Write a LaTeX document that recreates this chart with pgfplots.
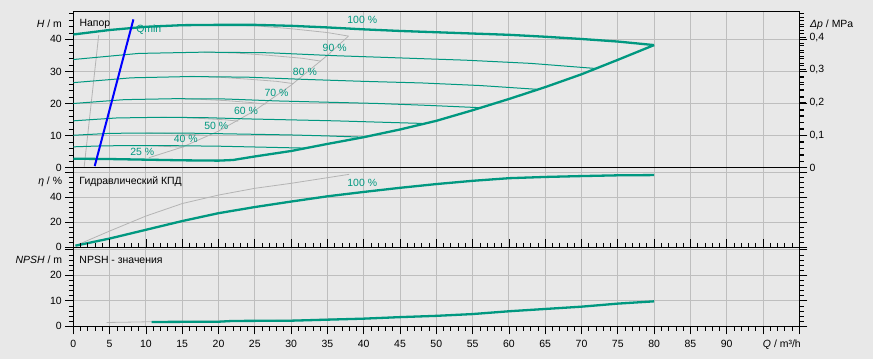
\documentclass[border=0pt]{standalone}
\usepackage{fontspec}
\setmainfont{Liberation Sans}
\usepackage{pgfplots}
\pgfplotsset{compat=1.18}
\definecolor{bg}{HTML}{E8E8E8}
\definecolor{gridc}{HTML}{BEBEBE}
\definecolor{tealc}{RGB}{0,152,128}
\definecolor{greyc}{HTML}{B4B4B4}
\newcommand\fsz{\fontsize{10.5}{12.6}\selectfont}
\pgfplotsset{
  base/.style={
    scale only axis, width=726bp, xmin=0, xmax=100, ymin=0,
    axis line style={black, line width=0.8bp},
    tick align=outside,
    major tick length=8bp, minor tick length=4.5bp,
    every tick/.style={black, line width=0.7bp},
    xtick={0,5,...,100},
    grid=major, major grid style={gridc, line width=0.9bp},
    /pgf/number format/assume math mode=true,
    tick label style={font=\fsz, black},
    clip mode=individual,
  },
  noxt/.style={xticklabels={}, xtick style={draw=none}},
  thickc/.style={tealc, line width=2.3bp},
  thinc/.style={tealc, line width=1.0bp},
  greyl/.style={greyc, line width=0.8bp},
}
\begin{document}
\begin{tikzpicture}
\fill[bg] (0,0) rectangle (873bp,359bp);
\useasboundingbox (0,0) rectangle (873bp,359bp);

% ---------------- top panel: head ----------------
\begin{axis}[base, noxt, at={(73.3bp,191.3bp)}, anchor=south west,
  height=156bp, ymax=48.6,
  ytick={0,10,20,30,40}, minor ytick={0,2,...,48}]
% grey curves
\addplot[greyl] coordinates {(1.5,0.3) (3.5,41.3)};
\addplot[greyl] coordinates {(10.4,3.1) (15,6.4) (20,11.4) (25,17.8) (30,25.7) (35,35.0) (37.9,41.0)};
\addplot[greyl] coordinates {(20,44.5) (25,44.2) (30,43.3) (35,42.1) (37.9,41.0)};
\addplot[greyl] coordinates {(18,36.0) (22.5,35.7) (27,35.0) (31.5,34.1) (34.1,33.2)};
\addplot[greyl] coordinates {(16,28.5) (20,28.2) (24,27.6) (28,26.9) (30.3,26.2)};
\addplot[greyl] coordinates {(14,21.5) (17.5,21.3) (21,20.9) (24.5,20.3) (26.5,19.8)};
\addplot[greyl] coordinates {(12,15.7) (15,15.6) (18,15.3) (21,14.9) (22.7,14.5)};
\addplot[greyl] coordinates {(10,10.8) (12.5,10.7) (15,10.5) (17.5,10.2) (19,10.0)};
\addplot[greyl] coordinates {(8,6.9) (10,6.9) (12,6.7) (14,6.5) (15.2,6.4)};
% speed curves
\addplot[thinc] coordinates {(0,33.7) (9,35.6) (18,36.0) (27,35.8) (36,34.9) (45,34.2) (54,33.5) (63,32.5) (72,30.9)};
\addplot[thinc] coordinates {(0,26.5) (8,28.0) (16,28.4) (24,28.2) (32,27.5) (40,26.9) (48,26.4) (56,25.6) (64,24.4)};
\addplot[thinc] coordinates {(0,20.0) (7,21.2) (14,21.5) (21,21.4) (28,20.8) (35,20.4) (42,20.0) (49,19.4) (56,18.7)};
\addplot[thinc] coordinates {(0,14.6) (6,15.5) (12,15.7) (18,15.6) (24,15.2) (30,14.9) (36,14.6) (42,14.2) (48,13.8)};
\addplot[thinc] coordinates {(0,10.1) (5,10.7) (10,10.8) (15,10.8) (20,10.6) (25,10.4) (30,10.2) (35,9.9) (40,9.5)};
\addplot[thinc] coordinates {(0,6.5) (4,6.8) (8,6.9) (12,6.9) (16,6.8) (20,6.7) (24,6.5) (28,6.3) (32,6.1)};
\addplot[thickc] coordinates {(0,41.5) (5,42.9) (10,43.9) (15,44.4) (20,44.5) (25,44.5) (30,44.2) (35,43.7) (40,43.1) (45,42.6) (50,42.2) (55,41.8) (60,41.4) (65,40.8) (70,40.1) (75,39.3) (80,38.2)};
\addplot[thickc] coordinates {(0,2.8) (5,2.7) (10,2.5) (15,2.3) (20,2.2) (22,2.4) (25,3.5) (30,5.2) (35,7.4) (40,9.5) (45,11.9) (50,14.6) (55,17.9) (60,21.4) (65,25.1) (70,29.1) (75,33.6) (80,38.2)};
\addplot[blue, line width=2bp] coordinates {(2.95,0.5) (8.28,46.2)};
% labels
\begin{scope}[every node/.style={font=\fsz, text=tealc, inner sep=0pt}]
\node at (axis cs:39.8,45.9) {100 \%};
\node at (axis cs:36.0,37.3) {90 \%};
\node at (axis cs:31.9,30.0) {80 \%};
\node at (axis cs:28.0,23.3) {70 \%};
\node at (axis cs:23.8,17.7) {60 \%};
\node at (axis cs:19.7,13.0) {50 \%};
\node at (axis cs:15.5,8.9) {40 \%};
\node at (axis cs:9.5,4.9) {25 \%};
\node at (axis cs:10.4,43.1) {Qmin};
\end{scope}
\node[font=\fsz, anchor=west, inner sep=0pt] at ([xshift=6bp,yshift=-12.3bp]rel axis cs:0,1) {Напор};
\node[font=\fsz, anchor=east, inner sep=0pt] at ([xshift=-11.3bp,yshift=-12bp]rel axis cs:0,1) {\textit{H} / m};
\end{axis}

% right axis: delta p
\begin{axis}[scale only axis, width=726bp, height=156bp, at={(73.3bp,191.3bp)}, anchor=south west,
  xmin=0, xmax=100, ymin=0, ymax=0.478, clip mode=individual,
  axis x line=none, axis y line*=right,
  axis line style={black, line width=0.8bp},
  tick align=outside, major tick length=6.7bp, minor tick length=4.3bp,
  every tick/.style={black, line width=0.7bp},
  ytick={0,0.1,0.2,0.3,0.4}, minor ytick={0,0.02,...,0.47},
  yticklabel style={font=\fsz, black, /pgf/number format/.cd, fixed, use comma, precision=1, assume math mode=true}]
\addplot[draw=none] coordinates {(0,0) (100,0.4)};
\node[font=\fsz, anchor=west, inner sep=0pt] at ([xshift=10.7bp,yshift=-13bp]rel axis cs:1,1) {\textit{Δp} / MPa};
\end{axis}

% ---------------- middle panel: efficiency ----------------
\begin{axis}[base, noxt, at={(73.3bp,111.7bp)}, anchor=south west,
  height=79.6bp, ymax=63.7,
  ytick={0,20,40,60}, yticklabels={0,20,40,}, minor ytick={0,4,...,60}]
\addplot[greyl] coordinates {(0.3,1.3) (5,13) (10,25) (15,35) (20,41.8) (25,47.2) (30,51.2) (35,55.7) (38,58.4)};
\addplot[thickc] coordinates {(0.3,1.3) (5,7) (10,14) (15,21) (20,27.3) (25,32.2) (30,36.6) (35,40.8) (40,44.3) (45,47.6) (50,50.6) (55,53.2) (60,55.3) (65,56.3) (70,57.0) (75,57.6) (80,57.8)};
\node[font=\fsz, text=tealc, inner sep=0pt] at (axis cs:39.8,51.2) {100 \%};
\node[font=\fsz, anchor=west, inner sep=0pt] at ([xshift=6bp,yshift=-14bp]rel axis cs:0,1) {Гидравлический КПД};
\node[font=\fsz, anchor=east, inner sep=0pt] at ([xshift=-11bp,yshift=-14bp]rel axis cs:0,1) {\textit{η} / \%};
\end{axis}

% ---------------- bottom panel: NPSH ----------------
\begin{axis}[base, at={(73.3bp,32.7bp)}, anchor=south west,
  height=79bp, ymax=31,
  ytick={0,10,20,30}, yticklabels={0,10,20,}, minor ytick={0,2,...,30},
  minor xtick={0,1,...,100},
  xticklabels={0,5,10,15,20,25,30,35,40,45,50,55,60,65,70,75,80,85,90,,},
  x tick label style={yshift=-2bp}]
\addplot[greyl] coordinates {(4.6,1.5) (7,1.6) (10.8,1.8) (20,2.0) (30,2.4) (38,3.1)};
\addplot[thickc] coordinates {(10.8,1.7) (15,1.75) (20,1.8) (22,2.1) (30,2.2) (35,2.6) (40,3.0) (45,3.6) (50,4.1) (55,4.8) (60,5.9) (65,6.8) (70,7.7) (75,8.9) (80,9.8)};
\node[font=\fsz, anchor=west, inner sep=0pt] at ([xshift=6bp,yshift=-12.7bp]rel axis cs:0,1) {NPSH - значения};
\node[font=\fsz, anchor=east, inner sep=0pt] at ([xshift=-11bp,yshift=-12.7bp]rel axis cs:0,1) {\textit{NPSH} / m};
\node[font=\fsz, inner sep=0pt] at ([yshift=-18.7bp]axis cs:97.6,0) {\textit{Q} / m³/h};
\end{axis}
\end{tikzpicture}
\end{document}
